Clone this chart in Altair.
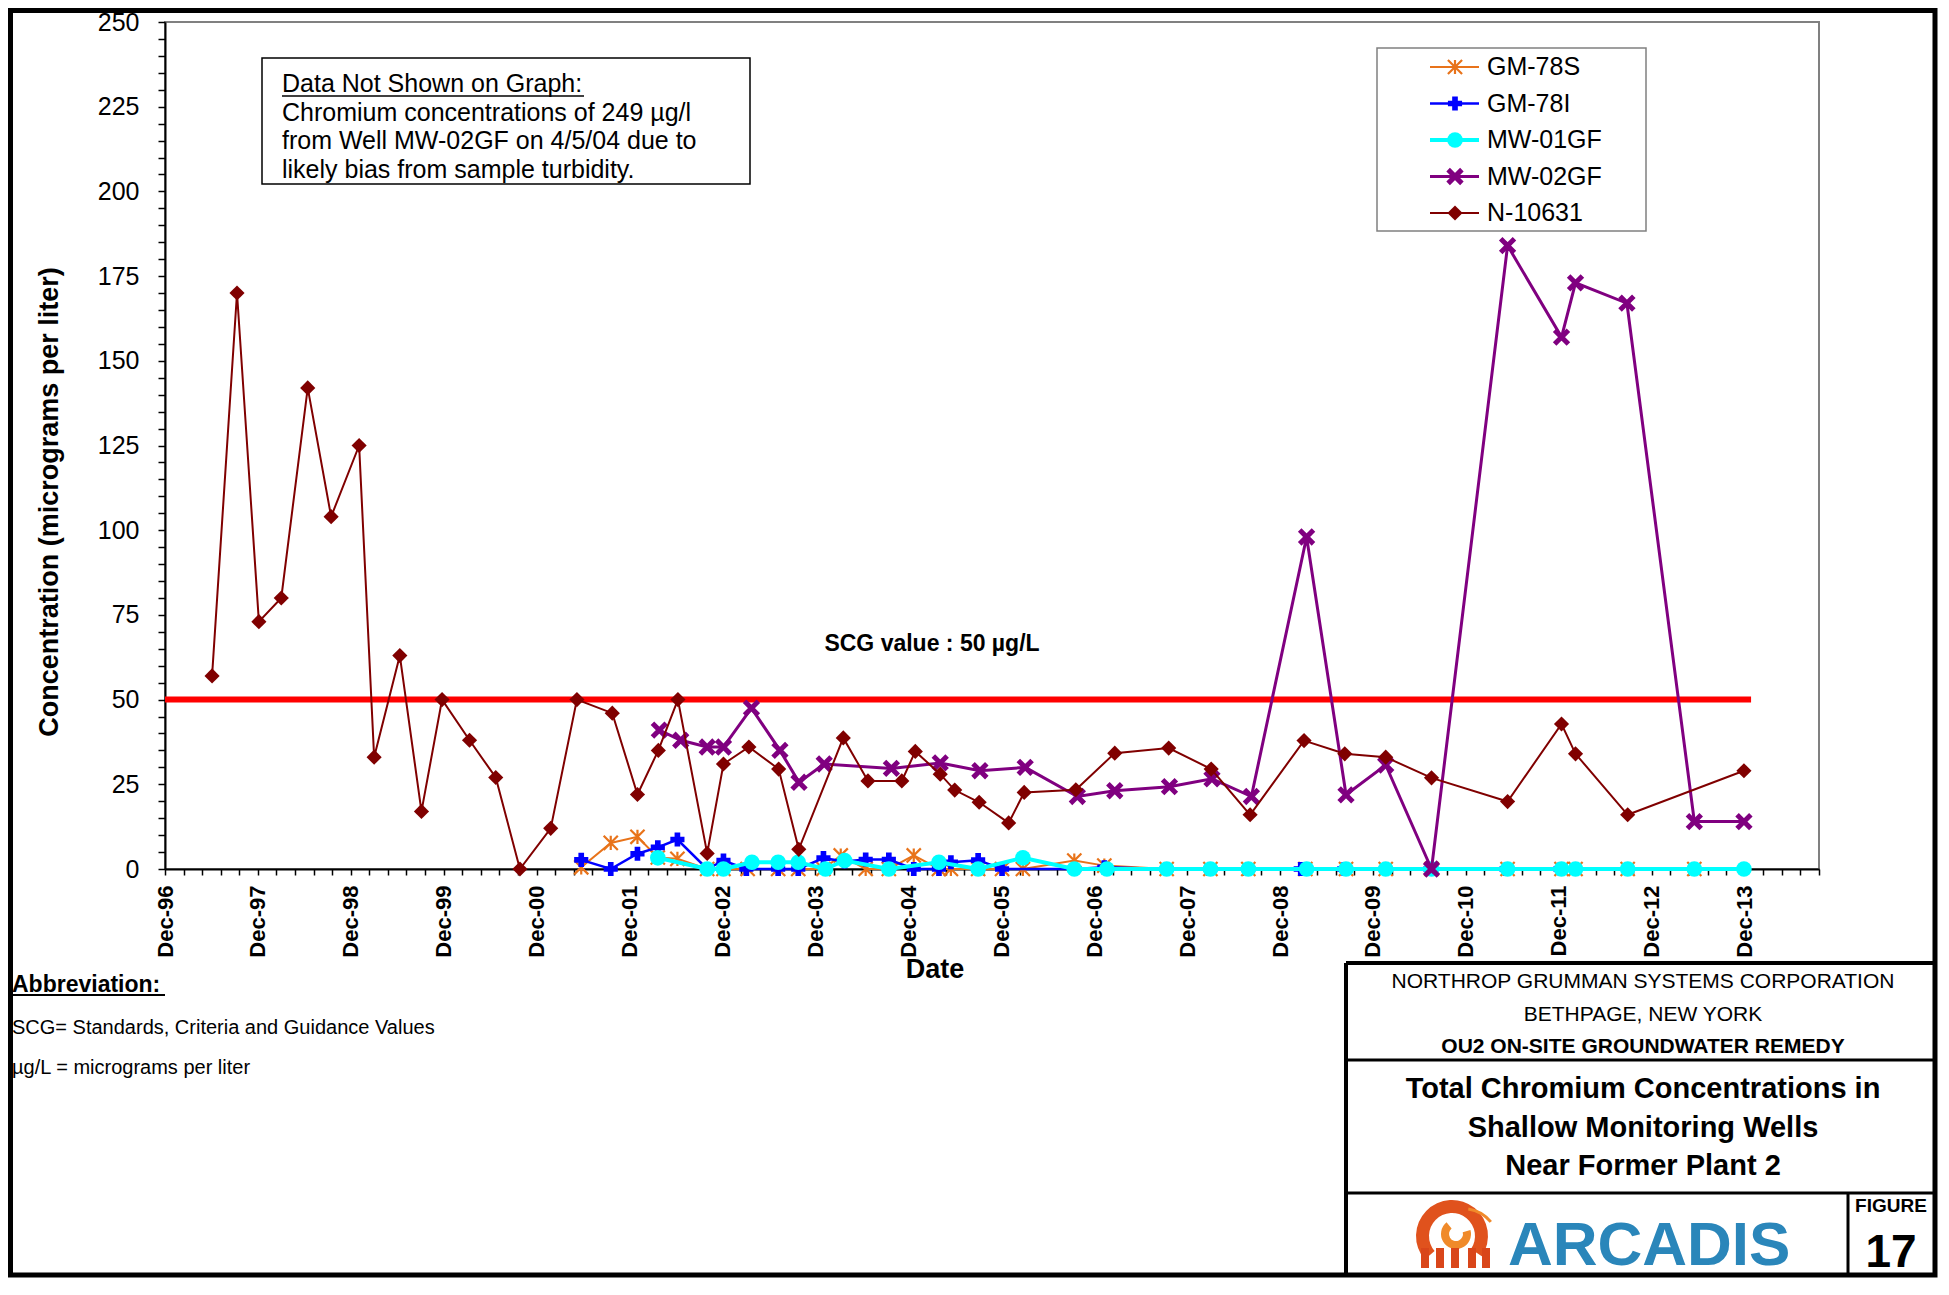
import altair as alt
import pandas as pd

FONT = "Liberation Sans, Arial, sans-serif"

# ---------------- data ----------------
series_names = ["GM-78S", "GM-78I", "MW-01GF", "MW-02GF", "N-10631"]

gm78s_dates = ["2001-05-25", "2001-09-18", "2002-01-01", "2002-03-22", "2002-06-07", "2002-10-02",
               "2002-12-05", "2003-03-10", "2003-07-08", "2003-09-25", "2004-01-02", "2004-03-10",
               "2004-06-16", "2004-09-15", "2004-12-22", "2005-03-31", "2005-05-17", "2005-09-01",
               "2005-12-04", "2006-02-24", "2006-09-14", "2007-01-10", "2007-09-12", "2008-03-02",
               "2008-07-29", "2009-03-10", "2009-08-17", "2010-01-20", "2010-07-19", "2011-05-14",
               "2011-12-12", "2012-02-05", "2012-08-28", "2013-05-17"]
gm78s_values = [0.5, 7.7, 9.5, 3.4, 3.0, 0, 0, 0, 0, 0, 0, 4, 0, 0, 4, 0, 0, 0, 0, 0,
                2.5, 1, 0, 0, 0, 0, 0, 0, 0, 0, 0, 0, 0, 0]

gm78i_dates = ["2001-05-25", "2001-09-18", "2002-01-01", "2002-03-22", "2002-06-07", "2002-10-02",
               "2002-12-05", "2003-03-05", "2003-07-08", "2003-09-25", "2004-01-02", "2004-03-25",
               "2004-06-16", "2004-09-15", "2004-12-22", "2005-03-31", "2005-05-17", "2005-09-01",
               "2005-12-04", "2006-09-14", "2007-01-10", "2007-09-12", "2008-03-02", "2008-07-29",
               "2009-02-20", "2009-08-10", "2010-01-20", "2010-07-15", "2011-05-10", "2011-12-08"]
gm78i_values = [2.7, 0, 4.5, 6.4, 8.7, 0, 2.5, 0, 0, 0, 3.2, 2.2, 2.8, 2.8, 0, 0, 2, 2.6, 0, 0,
                0.5, 0, 0, 0, 0, 0, 0, 0, 0, 0]

mw01_dates = ["2002-03-22", "2002-10-02", "2002-12-05", "2003-03-27", "2003-07-08", "2003-09-25",
              "2004-01-10", "2004-03-25", "2004-09-15", "2005-03-31", "2005-09-01", "2006-02-24",
              "2006-09-14", "2007-01-20", "2007-09-12", "2008-03-02", "2008-07-29", "2009-03-15",
              "2009-08-17", "2010-01-20", "2010-07-19", "2011-05-14", "2011-12-12", "2012-02-05",
              "2012-08-28", "2013-05-17", "2013-11-28"]
mw01_values = [3.3, 0, 0, 2, 2, 2, 0, 2.5, 0, 2, 0, 3.3, 0, 0, 0, 0, 0, 0, 0, 0,
               0, 0, 0, 0, 0, 0, 0]

mw02_dates = ["2002-03-28", "2002-06-20", "2002-10-02", "2002-12-05", "2003-03-25", "2003-07-15",
              "2003-09-28", "2004-01-05", "2004-09-25", "2005-04-05", "2005-09-08", "2006-03-05",
              "2006-09-26", "2007-02-20", "2007-09-23", "2008-03-08", "2008-08-10", "2009-03-15",
              "2009-08-17", "2010-01-20", "2010-07-19", "2011-05-14", "2011-12-12", "2012-02-05",
              "2012-08-25", "2013-05-17", "2013-11-28"]
mw02_values = [41, 38, 36, 36, 47.5, 35, 25.6, 31, 29.7, 31.3, 29, 30, 21.4, 23.1, 24.3, 26.6,
               21.4, 98, 21.9, 30.7, 0, 184, 157, 173, 167, 14, 14]

n10631_dates = ["1997-06-04", "1997-09-10", "1997-12-05", "1998-03-03", "1998-06-15", "1998-09-15",
                "1999-01-03", "1999-03-03", "1999-06-12", "1999-09-05", "1999-11-25", "2000-03-12",
                "2000-06-23", "2000-09-26", "2001-01-25", "2001-05-08", "2001-09-24", "2002-01-01",
                "2002-03-24", "2002-06-09", "2002-10-02", "2002-12-05", "2003-03-15", "2003-07-10",
                "2003-09-27", "2004-03-20", "2004-06-25", "2004-11-05", "2004-12-28", "2005-04-05",
                "2005-06-01", "2005-09-05", "2005-12-30", "2006-03-01", "2006-09-20", "2007-02-20",
                "2007-09-20", "2008-03-05", "2008-08-05", "2009-03-05", "2009-08-12", "2010-01-20",
                "2010-07-19", "2011-05-14", "2011-12-12", "2012-02-05", "2012-08-28", "2013-11-28"]
n10631_values = [57, 170, 73, 80, 142, 104, 125, 33, 63, 17, 50, 38, 27, 0, 12, 50, 46, 22, 35, 50,
                 4.6, 31, 36, 29.5, 5.8, 38.7, 26, 26, 34.7, 28, 23.3, 19.7, 13.6, 22.6, 23.4, 34.2,
                 35.7, 29.5, 16, 37.9, 34, 33, 26.9, 19.9, 42.8, 34, 16, 29]

scg_value = 50
scg_start = "1996-12-01"
scg_end = "2013-12-26"

series_data = {
    "GM-78S": (gm78s_dates, gm78s_values),
    "GM-78I": (gm78i_dates, gm78i_values),
    "MW-01GF": (mw01_dates, mw01_values),
    "MW-02GF": (mw02_dates, mw02_values),
    "N-10631": (n10631_dates, n10631_values),
}

# ---------------- styles ----------------
ASTERISK = "M-1,-1L1,1M-1,1L1,-1M0,-1L0,1"
XSHAPE = "M-1,-1L1,1M-1,1L1,-1"
styles = {
    "GM-78S": dict(color="#E8731A", shape=ASTERISK, filled=False, size=200, psw=2.2, lsw=2),
    "GM-78I": dict(color="#0000FF", shape="cross", filled=True, size=200, psw=0, lsw=2.5),
    "MW-01GF": dict(color="#00FFFF", shape="circle", filled=True, size=245, psw=0, lsw=4),
    "MW-02GF": dict(color="#800080", shape=XSHAPE, filled=False, size=190, psw=5, lsw=3),
    "N-10631": dict(color="#800000", shape="diamond", filled=True, size=230, psw=0, lsw=2),
}

W, H = 1654, 847
x_end = pd.Timestamp("2014-09-19")

tick_dates = []
for yr in range(1996, 2014):
    base = pd.Timestamp(year=yr, month=12, day=1)
    for k in range(5):
        d = base + pd.Timedelta(days=73 * k)
        if d <= x_end:
            tick_dates.append(d)
tick_vals = [alt.DateTime(year=d.year, month=d.month, date=d.day) for d in tick_dates]

x_scale = alt.Scale(domain=[alt.DateTime(year=1996, month=12, date=1),
                            alt.DateTime(year=2014, month=9, date=19)], nice=False)
y_scale = alt.Scale(domain=[0, 250], nice=False)

x_axis = alt.Axis(values=tick_vals,
                  labelExpr="month(datum.value) == 11 ? timeFormat(datum.value, '%b-%y') : ''",
                  labelAngle=270, labelFont=FONT, labelFontSize=22, labelFontWeight="bold",
                  labelColor="black", labelPadding=10, labelOverlap=False, labelFlush=False,
                  tickSize=6, tickColor="black", tickWidth=1.5, domainColor="black",
                  domainWidth=2, grid=False, title=None)
y_axis = alt.Axis(values=list(range(0, 251, 5)),
                  labelExpr="datum.value % 25 == 0 ? datum.label : ''",
                  labelFont=FONT, labelFontSize=25, labelColor="black", labelPadding=19,
                  labelOverlap=False, labelFlush=False,
                  tickSize=7, tickColor="black", tickWidth=1.5, domainColor="black",
                  domainWidth=2, grid=False, title=None)

one = pd.DataFrame({"k": [0]})


def txt(s, x, y, size, bold=False, align="left", baseline="alphabetic", angle=None,
        color="black", font=FONT):
    kw = dict(text=s, fontSize=size, fontWeight="bold" if bold else "normal", align=align,
              baseline=baseline, color=color, font=font)
    if angle is not None:
        kw["angle"] = angle
    return alt.Chart(one).mark_text(**kw).encode(x=alt.value(x), y=alt.value(y))


def hline(x1, x2, y, w=2, color="black"):
    return alt.Chart(one).mark_rule(color=color, strokeWidth=w).encode(
        x=alt.value(x1), x2=alt.value(x2), y=alt.value(y))


def vline(x, y1, y2, w=2, color="black"):
    return alt.Chart(one).mark_rule(color=color, strokeWidth=w).encode(
        x=alt.value(x), y=alt.value(y1), y2=alt.value(y2))


def box(x1, x2, y1, y2, stroke="black", w=1.5, fill="white", fill_opacity=1.0):
    return alt.Chart(one).mark_rect(fill=fill, fillOpacity=fill_opacity, stroke=stroke,
                                    strokeWidth=w).encode(
        x=alt.value(x1), x2=alt.value(x2), y=alt.value(y1), y2=alt.value(y2))


def point_mark(st):
    if st["filled"]:
        return dict(shape=st["shape"], filled=True, color=st["color"], size=st["size"], opacity=1)
    return dict(shape=st["shape"], filled=False, color=st["color"], size=st["size"],
                strokeWidth=st["psw"], opacity=1)


layers = []

# SCG reference line
scg_df = pd.DataFrame({"start": [pd.Timestamp(scg_start)], "end": [pd.Timestamp(scg_end)],
                       "v": [scg_value]})
layers.append(alt.Chart(scg_df).mark_rule(color="#FF0000", strokeWidth=6).encode(
    x=alt.X("start:T", scale=x_scale, axis=x_axis), x2="end:T",
    y=alt.Y("v:Q", scale=y_scale, axis=y_axis)))

# series
for name in series_names:
    dts, vals = series_data[name]
    df = pd.DataFrame({"date": pd.to_datetime(dts), "value": vals})
    st = styles[name]
    enc = dict(x=alt.X("date:T", scale=x_scale, axis=x_axis),
               y=alt.Y("value:Q", scale=y_scale, axis=y_axis))
    layers.append(alt.Chart(df).mark_line(color=st["color"], strokeWidth=st["lsw"]).encode(**enc))
    layers.append(alt.Chart(df).mark_point(**point_mark(st)).encode(**enc))

# SCG label
layers.append(txt("SCG value : 50 µg/L", 767, 629, 23, bold=True, align="center"))

# annotation box
layers.append(box(97, 585, 36, 162))
layers.append(txt("Data Not Shown on Graph:", 117, 70, 25))
layers.append(hline(117, 419, 74, w=1.5))
layers.append(txt("Chromium concentrations of 249 µg/l", 117, 99, 25))
layers.append(txt("from Well MW-02GF on 4/5/04 due to", 117, 127, 25))
layers.append(txt("likely bias from sample turbidity.", 117, 156, 25))

# legend
layers.append(box(1212, 1481, 26, 209, stroke="#808080", w=1.5))
leg_y = [45, 81.5, 118, 154.5, 191]
for name, yy in zip(series_names, leg_y):
    st = styles[name]
    layers.append(hline(1265, 1314, yy, w=st["lsw"], color=st["color"]))
    layers.append(alt.Chart(one).mark_point(**point_mark(st)).encode(
        x=alt.value(1290), y=alt.value(yy)))
    layers.append(txt(name, 1322, yy, 25, baseline="middle"))

# axis titles
layers.append(txt("Concentration (micrograms per liter)", -115, 480, 27, bold=True,
                  align="center", baseline="middle", angle=270))
layers.append(txt("Date", 770, 956, 27, bold=True, align="center"))

# abbreviation notes
layers.append(txt("Abbreviation:", -153, 970, 23, bold=True))
layers.append(hline(-153, 0, 973, w=2))
layers.append(txt("SCG= Standards, Criteria and Guidance Values", -153, 1012, 20))
layers.append(txt("µg/L = micrograms per liter", -153, 1052, 20))

# outer frame
layers.append(box(-154.5, 1770, -11.5, 1253, stroke="black", w=5, fill="white", fill_opacity=0))

# title block
layers.append(vline(1181, 941, 1253, w=4))
layers.append(hline(1181, 1770, 941, w=4))
layers.append(hline(1181, 1770, 1038, w=3))
layers.append(hline(1181, 1770, 1171, w=3))
layers.append(vline(1683, 1171, 1253, w=3))
cx = 1478
layers.append(txt("NORTHROP GRUMMAN SYSTEMS CORPORATION", cx, 966, 21, align="center"))
layers.append(txt("BETHPAGE, NEW YORK", cx, 999, 21, align="center"))
layers.append(txt("OU2 ON-SITE GROUNDWATER REMEDY", cx, 1031, 21, bold=True, align="center"))
layers.append(txt("Total Chromium Concentrations in", cx, 1076, 29, bold=True, align="center"))
layers.append(txt("Shallow Monitoring Wells", cx, 1115, 29, bold=True, align="center"))
layers.append(txt("Near Former Plant 2", cx, 1153, 29, bold=True, align="center"))
layers.append(txt("FIGURE", 1726, 1190, 19, bold=True, align="center"))
layers.append(txt("17", 1726, 1245, 46, bold=True, align="center"))

# logo
layers.append(alt.Chart(one).mark_arc(radius=36, radius2=23, theta=4.0, theta2=8.45,
                                      color="#E0521D").encode(x=alt.value(1287), y=alt.value(1214)))
layers.append(alt.Chart(one).mark_arc(radius=15, radius2=7, theta=1.3, theta2=5.6,
                                      color="#F08A2A").encode(x=alt.value(1291), y=alt.value(1212)))
layers.append(alt.Chart(one).mark_arc(radius=37, radius2=34, theta=0.15, theta2=0.9,
                                      color="#F08A2A").encode(x=alt.value(1298), y=alt.value(1222)))
for lx in [1256, 1271, 1286, 1303, 1317]:
    layers.append(alt.Chart(one).mark_rect(color="#D9461A").encode(
        x=alt.value(lx), x2=alt.value(lx + 8), y=alt.value(1226), y2=alt.value(1246)))
layers.append(txt("ARCADIS", 1343, 1243, 62, bold=True, color="#2A86BA",
                  font="Liberation Sans Narrow, Liberation Sans, Arial, sans-serif"))

chart = alt.layer(*layers).properties(
    width=W, height=H,
    autosize=alt.AutoSizeParams(type="none"),
    padding={"left": 157, "top": 14, "right": 119, "bottom": 409},
).configure(background="white").configure_view(stroke="#808080", strokeWidth=2)

chart.save("out.html", embed_options={"renderer": "svg", "actions": False})
